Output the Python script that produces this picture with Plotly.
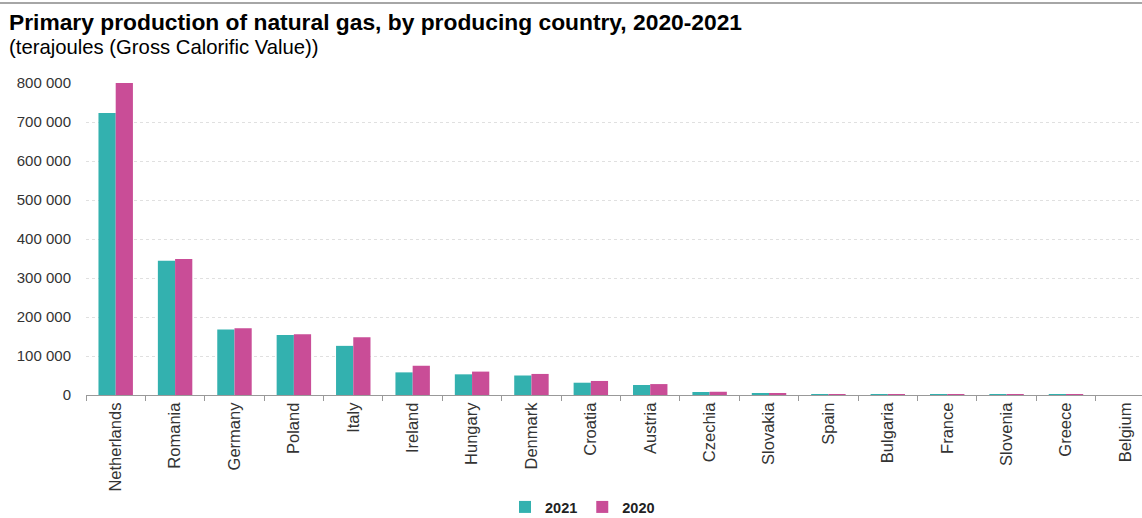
import plotly.graph_objects as go

countries = ["Netherlands", "Romania", "Germany", "Poland", "Italy", "Ireland",
             "Hungary", "Denmark", "Croatia", "Austria", "Czechia", "Slovakia",
             "Spain", "Bulgaria", "France", "Slovenia", "Greece", "Belgium"]
values_2021 = [723000, 344000, 168000, 154000, 126000, 58000, 53000, 50000,
               31500, 25600, 7700, 3000, 1300, 900, 100, 200, 300, 0]
values_2020 = [800000, 349000, 171000, 156000, 148000, 75000, 60000, 54000,
               36000, 28000, 8300, 3300, 1500, 1200, 100, 300, 200, 0]

W, H = 1142, 518
L, R, T, B = 86, 0, 83, 123
plot_h = H - T - B
plot_w = W - L - R
FONT = "Liberation Sans, Arial, sans-serif"

def py(pix):
    return (H - B - pix) / plot_h

def px(pix):
    return (pix - L) / plot_w

fig = go.Figure()
fig.add_trace(go.Bar(name="2021", x=countries, y=values_2021,
                     marker=dict(color="#33B1AF", line=dict(width=0))))
fig.add_trace(go.Bar(name="2020", x=countries, y=values_2020,
                     marker=dict(color="#C94D97", line=dict(width=0))))

fig.update_layout(
    width=W, height=H,
    margin=dict(l=L, r=R, t=T, b=B, autoexpand=False),
    paper_bgcolor="white", plot_bgcolor="white",
    font=dict(family=FONT, size=15, color="#333333"),
    separators=". ",
    barmode="group", bargap=0.42, bargroupgap=0,
    showlegend=True,
    legend=dict(orientation="h", x=505 / W, xref="container", xanchor="left",
                y=(H - 507) / H, yref="container", yanchor="middle",
                bgcolor="rgba(0,0,0,0)",
                font=dict(size=14.5, color="#222222", family=FONT, weight="bold"),
                itemwidth=30, traceorder="normal"),
    xaxis=dict(range=[-0.5, 17.28], showline=True, linecolor="#999999", linewidth=1,
               ticks="outside", tickcolor="#999999", ticklen=5, tickson="boundaries",
               tickangle=-90, showgrid=False, automargin=False,
               tickfont=dict(size=16.5, color="#333333")),
    yaxis=dict(range=[0, 800000], tickvals=[0, 100000, 200000, 300000, 400000, 500000,
                                            600000, 700000, 800000],
               tickformat=",", showgrid=True, gridcolor="#e0e0e0", griddash="dot",
               gridwidth=1, zeroline=False, showline=False, ticks="", automargin=False,
               ticklabelstandoff=14, tickfont=dict(size=15, color="#333333")),
)

fig.add_shape(type="line", xref="paper", yref="paper", x0=px(0), x1=1,
              y0=py(3), y1=py(3), line=dict(color="#888888", width=1.5))

fig.add_annotation(xref="paper", yref="paper", x=px(7), y=py(22), xanchor="left",
                   yanchor="middle", showarrow=False,
                   text="<b>Primary production of natural gas, by producing country, 2020-2021</b>",
                   font=dict(size=22.8, color="#000000"))
fig.add_annotation(xref="paper", yref="paper", x=px(7), y=py(47), xanchor="left",
                   yanchor="middle", showarrow=False,
                   text="(terajoules (Gross Calorific Value))",
                   font=dict(size=20.3, color="#000000"))

fig.write_html("out.html", config={"displayModeBar": False})

with open("out.html", "r", encoding="utf-8") as f:
    html = f.read()
html = html.replace(
    "<head>",
    "<head><style>html,body{margin:0;padding:0;overflow:hidden;height:518px;"
    "font-size:0;line-height:0;} .plotly-graph-div{display:block;}</style>",
    1)
with open("out.html", "w", encoding="utf-8") as f:
    f.write(html)
